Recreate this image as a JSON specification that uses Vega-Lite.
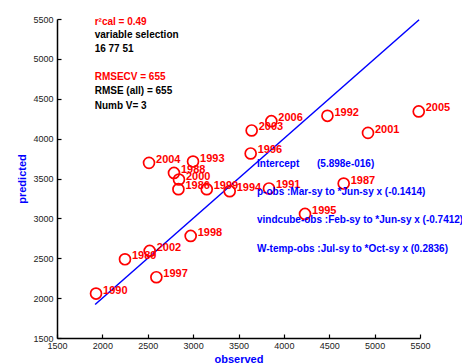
{
  "$schema": "https://vega.github.io/schema/vega-lite/v6.json",
  "width": 363,
  "height": 319,
  "autosize": "none",
  "padding": {"left": 57, "top": 19, "right": 42, "bottom": 25},
  "background": "white",
  "config": {
    "view": {"stroke": null},
    "font": "Liberation Sans",
    "axis": {
      "grid": false,
      "domainColor": "black",
      "domainWidth": 1.5,
      "tickColor": "black",
      "tickWidth": 1.2,
      "tickSize": -4,
      "labelColor": "#222",
      "labelFontSize": 9,
      "labelFont": "Liberation Sans",
      "titleColor": "#0000ff",
      "titleFont": "Liberation Sans",
      "titleFontWeight": "bold",
      "titleFontSize": 11
    }
  },
  "datasets": {
    "years": [
      {"observed": 2838, "predicted": 3366, "year": "1986"},
      {"observed": 4659, "predicted": 3437, "year": "1987"},
      {"observed": 2789, "predicted": 3570, "year": "1988"},
      {"observed": 2249, "predicted": 2487, "year": "1989"},
      {"observed": 1930, "predicted": 2057, "year": "1990"},
      {"observed": 3836, "predicted": 3375, "year": "1991"},
      {"observed": 4480, "predicted": 4286, "year": "1992"},
      {"observed": 2999, "predicted": 3713, "year": "1993"},
      {"observed": 3403, "predicted": 3341, "year": "1994"},
      {"observed": 4233, "predicted": 3056, "year": "1995"},
      {"observed": 3634, "predicted": 3814, "year": "1996"},
      {"observed": 2595, "predicted": 2262, "year": "1997"},
      {"observed": 2973, "predicted": 2780, "year": "1998"},
      {"observed": 3150, "predicted": 3366, "year": "1999"},
      {"observed": 2844, "predicted": 3487, "year": "2000"},
      {"observed": 4927, "predicted": 4072, "year": "2001"},
      {"observed": 2521, "predicted": 2592, "year": "2002"},
      {"observed": 3645, "predicted": 4102, "year": "2003"},
      {"observed": 2514, "predicted": 3696, "year": "2004"},
      {"observed": 5486, "predicted": 4341, "year": "2005"},
      {"observed": 3862, "predicted": 4219, "year": "2006"}
    ],
    "fit": [
      {"observed": 1920, "predicted": 1920},
      {"observed": 5490, "predicted": 5490}
    ],
    "redNotes": [
      {"observed": 1915, "predicted": 5461, "text": "r²cal = 0.49"},
      {"observed": 1915, "predicted": 4775, "text": "RMSECV = 655"}
    ],
    "blackNotes": [
      {"observed": 1915, "predicted": 5298, "text": "variable selection"},
      {"observed": 1915, "predicted": 5122, "text": "16 77 51"},
      {"observed": 1915, "predicted": 4595, "text": "RMSE (all) = 655"},
      {"observed": 1915, "predicted": 4407, "text": "Numb V= 3"}
    ],
    "blueNotes": [
      {"observed": 3704, "predicted": 3688, "text": "Intercept"},
      {"observed": 4365, "predicted": 3688, "text": "(5.898e-016)"},
      {"observed": 3704, "predicted": 3332, "text": "p-obs :Mar-sy to *Jun-sy x (-0.1414)"},
      {"observed": 3704, "predicted": 2977, "text": "vindcube-obs :Feb-sy to *Jun-sy x (-0.7412)"},
      {"observed": 3704, "predicted": 2622, "text": "W-temp-obs :Jul-sy to *Oct-sy x (0.2836)"}
    ]
  },
  "encoding": {
    "x": {
      "field": "observed", "type": "quantitative",
      "scale": {"domain": [1500, 5500], "nice": false, "zero": false},
      "axis": {"values": [1500, 2000, 2500, 3000, 3500, 4000, 4500, 5000, 5500], "format": "d", "title": "observed", "titlePadding": 3, "labelPadding": 7, "labelFlush": false, "labelOverlap": false}
    },
    "y": {
      "field": "predicted", "type": "quantitative",
      "scale": {"domain": [1500, 5500], "nice": false, "zero": false},
      "axis": {"values": [1500, 2000, 2500, 3000, 3500, 4000, 4500, 5000, 5500], "format": "d", "title": "predicted", "titlePadding": 5, "labelPadding": 8, "labelFlush": false, "labelOverlap": false}
    }
  },
  "layer": [
    {
      "data": {"name": "fit"},
      "mark": {"type": "line", "color": "#0000ff", "strokeWidth": 1.5}
    },
    {
      "data": {"name": "years"},
      "mark": {"type": "point", "shape": "circle", "filled": false, "color": "#ff0000", "size": 120, "strokeWidth": 1.7, "opacity": 1}
    },
    {
      "data": {"name": "years"},
      "mark": {"type": "text", "align": "left", "baseline": "middle", "dx": 7, "dy": -3, "color": "#ff0000", "fontSize": 11, "fontWeight": "bold", "font": "Liberation Sans"},
      "encoding": {"text": {"field": "year"}}
    },
    {
      "data": {"name": "redNotes"},
      "mark": {"type": "text", "align": "left", "baseline": "middle", "color": "#ff0000", "fontSize": 10, "fontWeight": "bold", "font": "Liberation Sans"},
      "encoding": {"text": {"field": "text"}}
    },
    {
      "data": {"name": "blackNotes"},
      "mark": {"type": "text", "align": "left", "baseline": "middle", "color": "black", "fontSize": 10, "fontWeight": "bold", "font": "Liberation Sans"},
      "encoding": {"text": {"field": "text"}}
    },
    {
      "data": {"name": "blueNotes"},
      "mark": {"type": "text", "align": "left", "baseline": "middle", "color": "#0000ff", "fontSize": 10, "fontWeight": "bold", "font": "Liberation Sans"},
      "encoding": {"text": {"field": "text"}}
    }
  ]
}
